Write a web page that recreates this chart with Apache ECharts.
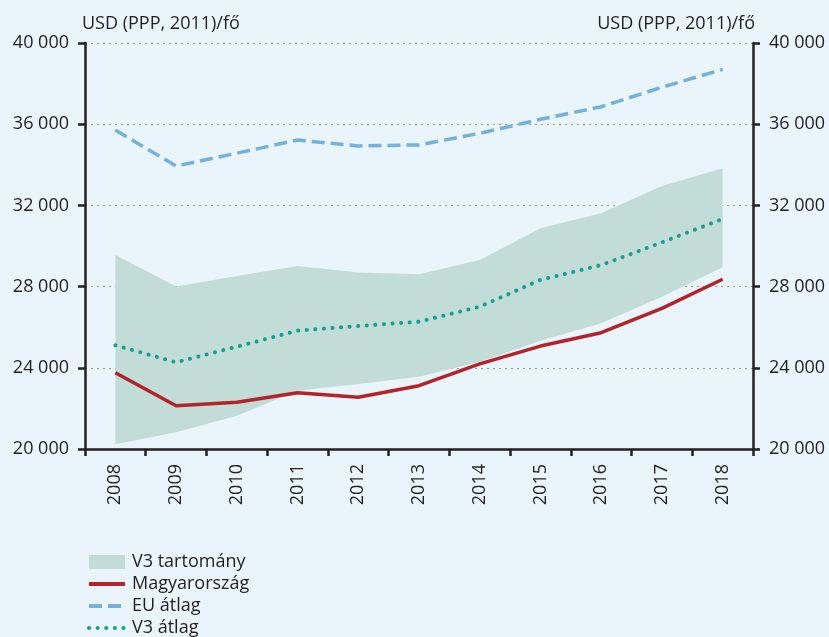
<!DOCTYPE html>
<html>
<head>
<meta charset="utf-8">
<script src="https://cdn.jsdelivr.net/npm/echarts@6/dist/echarts.min.js"></script>
<style>
  html, body { margin: 0; padding: 0; background: #e9f4fb; }
  #chart { width: 829px; height: 637px; }
</style>
</head>
<body>
<div id="chart"></div>
<script>
// évek
const years = ["2008", "2009", "2010", "2011", "2012", "2013", "2014", "2015", "2016", "2017", "2018"];
// V3 tartomány alsó / felső széle
const v3Low = [20230, 20820, 21640, 22870, 23200, 23560, 24300, 25330, 26190, 27500, 28950];
const v3High = [29560, 28000, 28520, 29010, 28700, 28610, 29310, 30870, 31610, 32960, 33830];
const hungary = [23760, 22130, 22300, 22770, 22550, 23120, 24190, 25070, 25730, 26930, 28360];
const euAvg = [35710, 33940, 34570, 35220, 34930, 34980, 35550, 36240, 36860, 37820, 38700];
const v3Avg = [25110, 24270, 25040, 25830, 26060, 26270, 27010, 28330, 29060, 30180, 31330];
const axisName = "USD (PPP, 2011)/fő";

const FONT = "Open Sans";
const FS = 18;
const TXT = "#231f20";

let bandDiff = v3High.map((v, i) => v - v3Low[i]);

function fmt(v) {
    return String(v).replace(/\B(?=(\d{3})+(?!\d))/g, " ");
}

function yAxisMode(pos) {
    return {
        type: "value",
        position: pos,
        min: 20000,
        max: 40000,
        interval: 4000,
        name: axisName,
        nameLocation: "end",
        nameGap: 10,
        nameTextStyle: {
            color: TXT,
            fontFamily: FONT,
            fontSize: FS,
            align: pos === "left" ? "left" : "right",
            padding: pos === "left" ? [0, 0, 0, -3] : [0, -2, 0, 0]
        },
        axisLine: { show: true, lineStyle: { color: TXT, width: 2.5 } },
        axisTick: { show: true, length: 7, lineStyle: { color: TXT, width: 2.5 } },
        axisLabel: {
            color: TXT,
            fontFamily: FONT,
            fontSize: FS,
            margin: 16,
            formatter: fmt
        },
        splitLine: {
            show: pos === "left",
            lineStyle: { color: "#9a9a9a", type: [2, 4], width: 1 }
        }
    };
}

let noSymbol = { opacity: 0 };

let myChart = echarts.init(document.getElementById("chart"));
let option = {
    backgroundColor: "#e9f4fb",
    animation: false,
    grid: { left: 85, right: 76, top: 43, bottom: 188 },
    legend: {
        orient: "vertical",
        left: 87,
        top: 553,
        padding: 0,
        itemGap: 4,
        itemWidth: 36,
        itemHeight: 14,
        lineStyle: { width: 4 },
        textStyle: { color: TXT, fontFamily: FONT, fontSize: FS, padding: [0, 0, 0, 2] },
        data: [
            { name: "V3 tartomány", icon: "rect" },
            { name: "Magyarország", itemStyle: noSymbol },
            { name: "EU átlag", itemStyle: noSymbol },
            { name: "V3 átlag", itemStyle: noSymbol }
        ]
    },
    xAxis: {
        type: "category",
        data: years,
        boundaryGap: true,
        axisLine: { lineStyle: { color: TXT, width: 2.5 } },
        axisTick: { show: true, length: 7, lineStyle: { color: TXT, width: 2.5 } },
        axisLabel: {
            color: TXT,
            fontFamily: FONT,
            fontSize: FS,
            rotate: 90,
            margin: 15
        }
    },
    yAxis: [yAxisMode("left"), yAxisMode("right")],
    series: [
        {
            name: "alsó",
            type: "line",
            stack: "band",
            data: v3Low,
            symbol: "none",
            lineStyle: { opacity: 0 },
            silent: true
        },
        {
            name: "V3 tartomány",
            type: "line",
            stack: "band",
            data: bandDiff,
            symbol: "none",
            itemStyle: { color: "#c2ddd8" },
            lineStyle: { opacity: 0 },
            areaStyle: { color: "#c2ddd8", opacity: 1 }
        },
        {
            name: "Magyarország",
            type: "line",
            data: hungary,
            symbol: "none",
            itemStyle: { color: "#b3232a" },
            lineStyle: { color: "#b3232a", width: 3.5 }
        },
        {
            name: "EU átlag",
            type: "line",
            data: euAvg,
            symbol: "none",
            itemStyle: { color: "#74b1dd" },
            lineStyle: { color: "#74b1dd", width: 3.5, type: [13, 6] }
        },
        {
            name: "V3 átlag",
            type: "line",
            data: v3Avg,
            symbol: "none",
            itemStyle: { color: "#17a092" },
            lineStyle: { color: "#17a092", width: 4, type: [0.1, 8.5], cap: "round" }
        }
    ]
};
myChart.setOption(option);
</script>
</body>
</html>
